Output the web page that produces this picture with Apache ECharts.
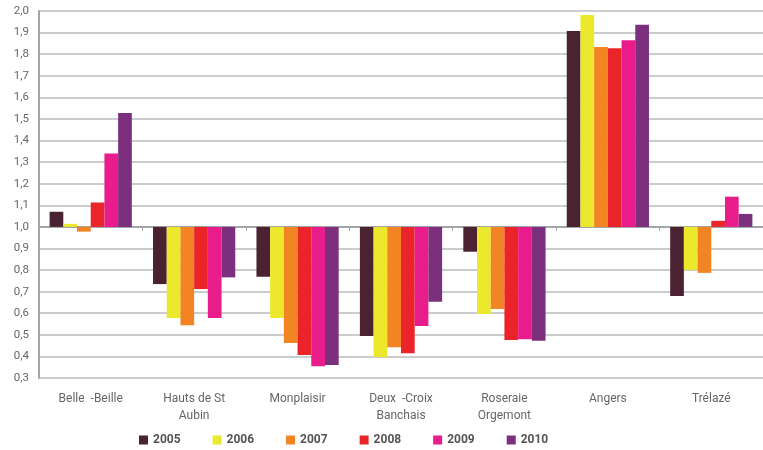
<!DOCTYPE html>
<html>
<head>
<meta charset="utf-8">
<script src="https://cdn.jsdelivr.net/npm/echarts@6/dist/echarts.min.js"></script>
<style>
html,body{margin:0;padding:0;background:#fff;}
#chart{width:763px;height:450px;}
</style>
</head>
<body>
<div id="chart"></div>
<script>
// indices relative to 1,0 (bars grow up or down from the 1,0 line)
var categories = ['Belle  -Beille', 'Hauts de St\nAubin', 'Monplaisir', 'Deux  -Croix\nBanchais', 'Roseraie\nOrgemont', 'Angers', 'Trélazé'];
var years = ['2005', '2006', '2007', '2008', '2009', '2010'];
var colors = ['#4a2231', '#ece82b', '#f28424', '#ea2428', '#e91c8c', '#7b2f7c'];

var v2005 = [1.07, 0.735, 0.769, 0.494, 0.885, 1.907, 0.68];
var v2006 = [1.014, 0.578, 0.578, 0.397, 0.597, 1.981, 0.801];
var v2007 = [0.978, 0.544, 0.462, 0.443, 0.62, 1.833, 0.787];
var v2008 = [1.113, 0.712, 0.406, 0.415, 0.476, 1.828, 1.028];
var v2009 = [1.34, 0.578, 0.355, 0.541, 0.48, 1.865, 1.14];
var v2010 = [1.527, 0.766, 0.36, 0.653, 0.473, 1.936, 1.06];

var yMin = 0.3, yMax = 2.0, base = 1.0;

var allValues = [v2005, v2006, v2007, v2008, v2009, v2010];

var series = years.map(function(y, i){
    return {
        name: y,
        type: 'bar',
        xAxisIndex: 0,
        barGap: '0%',
        barCategoryGap: '20.5%',
        itemStyle: {color: colors[i]},
        data: allValues[i].map(function(v){ return +(v - base).toFixed(4); })
    };
});

var chart = echarts.init(document.getElementById('chart'));
var option = {
    animation: false,
    textStyle: {fontFamily: 'Roboto'},
    color: colors,
    grid: {left: 39, right: -8, top: 11, bottom: 72, containLabel: false},
    legend: {
        bottom: -1,
        left: 134,
        itemWidth: 9,
        itemHeight: 9,
        itemGap: 32,
        icon: 'rect',
        textStyle: {color: '#555', fontSize: 12, fontWeight: 'bold', fontFamily: 'Roboto'},
        data: years
    },
    xAxis: [{
        type: 'category',
        data: categories,
        position: 'bottom',
        axisLine: {show: false, onZero: false},
        axisTick: {show: false},
        axisLabel: {color: '#666', fontSize: 12, lineHeight: 17, margin: 12, interval: 0}
    }, {
        type: 'category',
        data: categories,
        position: 'bottom',
        axisLine: {show: true, onZero: true, lineStyle: {color: '#a3a6a9', width: 2}},
        axisTick: {show: true, length: 4, lineStyle: {color: '#a3a6a9', width: 1}},
        axisLabel: {show: false}
    }],
    yAxis: {
        type: 'value',
        min: yMin - base,
        max: yMax - base,
        interval: 0.1,
        axisLine: {show: true, lineStyle: {color: '#a3a6a9', width: 2}},
        axisTick: {show: false},
        splitLine: {lineStyle: {color: '#b8bbbe', width: 1.5}},
        axisLabel: {
            color: '#666', fontSize: 11.5, margin: 10,
            formatter: function(v){ return (v + base).toFixed(1).replace('.', ','); }
        }
    },
    series: series
};
chart.setOption(option);
</script>
</body>
</html>
